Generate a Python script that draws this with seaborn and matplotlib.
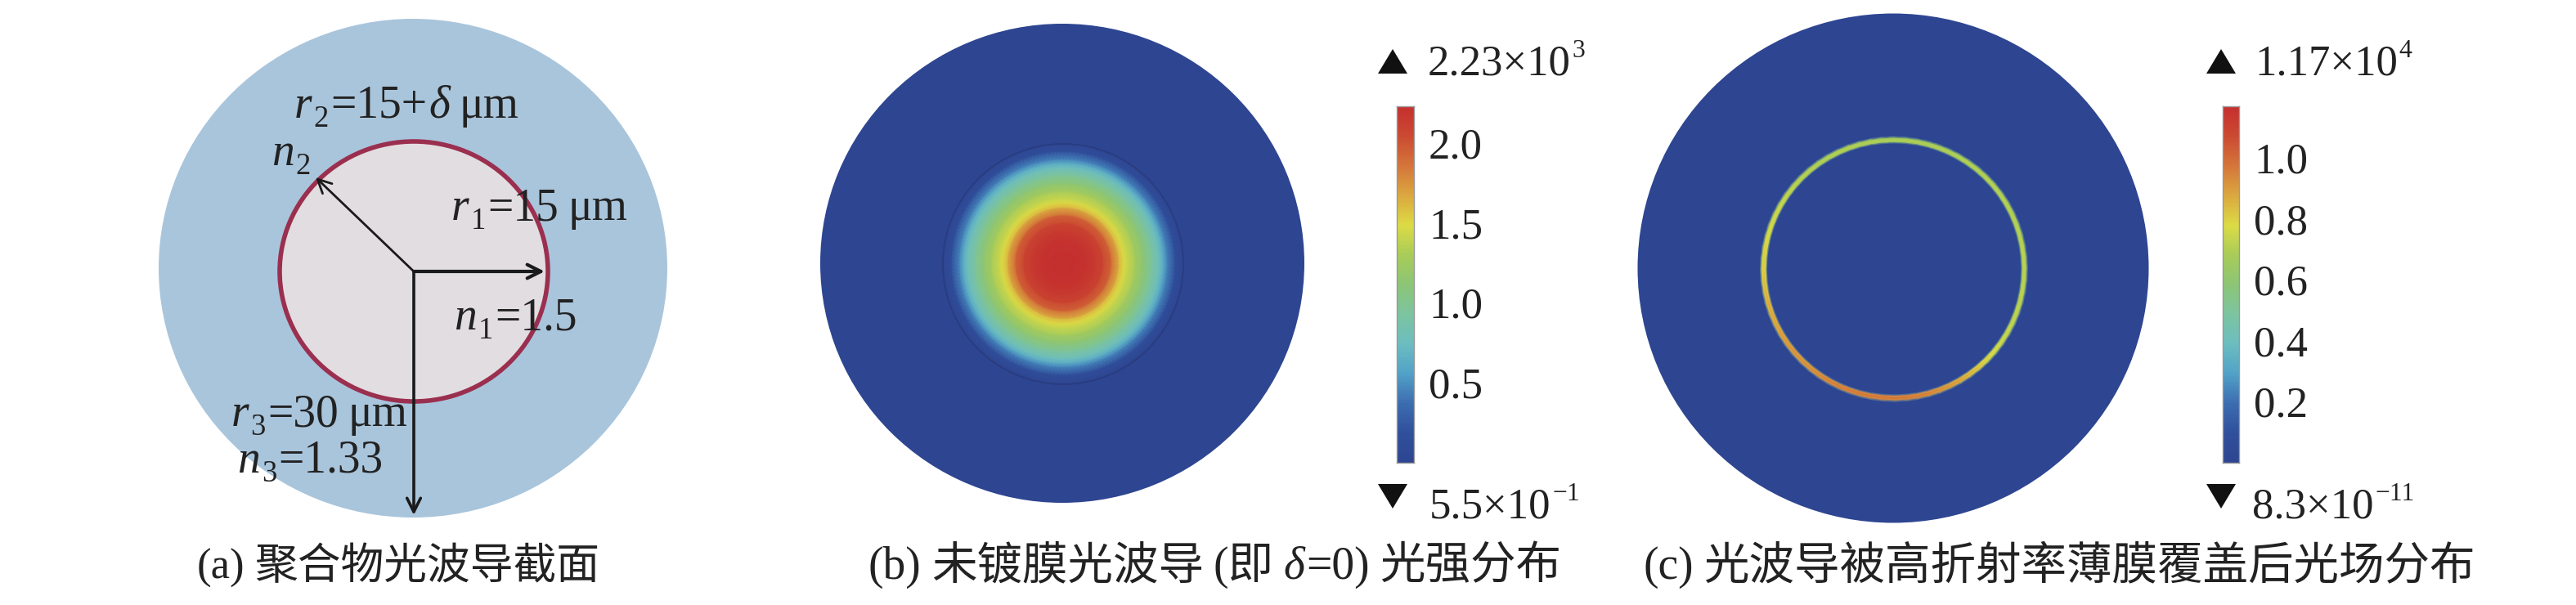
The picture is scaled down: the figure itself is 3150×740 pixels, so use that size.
"""Optical waveguide cross section and simulated field distributions."""

import matplotlib
matplotlib.use('Agg')
import matplotlib.pyplot as plt
from matplotlib.patches import Ellipse, Polygon
import seaborn as sns
import numpy as np

sns.set_theme(style="white")
FAMILY = ['Liberation Serif', 'Noto Sans CJK SC']
plt.rcParams['font.family'] = FAMILY
INK = '#222222'

# Data
# (b) intensity against radius, in units of 10^3
RADIUS_B = [0, 1, 2, 3, 4, 5, 6, 7, 7.5, 8, 9, 10, 11, 12, 12.5, 13, 14, 14.9]
INTENSITY_B = [2.23, 2.23, 2.22, 2.20, 2.16, 2.08, 1.92, 1.62, 1.50, 1.42, 1.28,
               1.12, 0.95, 0.75, 0.62, 0.45, 0.15, 0.03]
# (c) field along the film, every 5 degrees, in units of 10^4
ANGLE_C = list(range(0, 365, 5))
FIELD_C = [.73, .73, .72, .72, .72, .72, .72, .72, .72, .72, .71, .71, .71,
           .70, .70, .70, .70, .70, .70, .70, .70, .70, .71, .71, .71, .71,
           .72, .72, .73, .74, .75, .76, .77, .78, .80, .81, .82, .84, .86,
           .88, .89, .90, .91, .92, .93, .93, .94, .95, .96, .97, .97, .98,
           .98, .98, .98, .98, .97, .96, .94, .92, .90, .87, .84, .80, .78,
           .76, .75, .74, .74, .73, .73, .73, .73]
FILM_RADIUS_C = [14.6, 14.8, 15.0, 15.2, 15.4]
FILM_SHAPE_C = [0.15, 0.95, 1.0, 0.95, 0.15]

TICKS_B = [2.0, 1.5, 1.0, 0.5]
TICKS_C = [1.0, 0.8, 0.6, 0.4, 0.2]
RANGE_B = (0.0, 2.23)
RANGE_C = (0.0, 1.17)

CMAP_COLORS = ['#2e4591', '#30509c', '#3c6db0', '#52a2c8', '#6cbdc0', '#7cc4a0', '#8cc576',
               '#a8cc58', '#dcdb45', '#dba83f', '#d5763a', '#cb4a32', '#c5302e']
cmap = sns.blend_palette(CMAP_COLORS, as_cmap=True)

fig = plt.figure(figsize=(31.5, 7.4), dpi=100)
ax = fig.add_axes([0, 0, 1, 1])
ax.set_xlim(0, 3150)
ax.set_ylim(740, 0)
ax.axis('off')
renderer = fig.canvas.get_renderer()


def runs(x, y, parts, size=40):
    """Write text pieces one after the other. A number in parts is a gap."""
    for part in parts:
        if not isinstance(part, tuple):
            x += part
            continue
        s, style, scale, dy = part
        t = ax.text(x, y + dy, s, fontsize=size * scale, style=style, color=INK,
                    family=FAMILY, ha='left', va='baseline', zorder=6)
        x += t.get_window_extent(renderer).width + 2


def it(s):
    return (s, 'italic', 1, 0)


def rm(s):
    return (s, 'normal', 1, 0)


def sub(s):
    return (s, 'normal', 0.66, 11)


def sup(s):
    return (s, 'normal', 0.6, -22)


def polar_mesh(cx, cy, rx, ry, radius, angle):
    rr, aa = np.meshgrid(radius, np.radians(angle), indexing='ij')
    return cx + rx * rr / 15 * np.cos(aa), cy - ry * rr / 15 * np.sin(aa)


# (a) Waveguide cross section
ax.add_patch(Ellipse((505, 328), 622, 610, fc='#a9c5dc', ec='none'))
ax.add_patch(Ellipse((506, 332), 328, 318, fc='#e2dde0', ec='#9b2f4f', lw=4))
for tip, lw in [((666, 332), 3.0), ((506, 630), 2.6), ((386, 217), 2.0)]:
    ax.annotate('', xy=tip, xytext=(506, 332), zorder=5,
                arrowprops=dict(arrowstyle='->', color='#1a1a1a', lw=lw,
                                mutation_scale=30, shrinkA=0, shrinkB=0))

runs(360, 144, [it('r'), sub('2'), rm('=15+'), it('δ'), 10, rm('μm')])
runs(552, 269, [it('r'), sub('1'), rm('=15'), 10, rm('μm')])
runs(555, 403, [it('n'), sub('1'), rm('=1.5')])
runs(332, 202, [it('n'), sub('2')])
runs(283, 521, [it('r'), sub('3'), rm('=30'), 10, rm('μm')])
runs(290, 578, [it('n'), sub('3'), rm('=1.33')])

# (b) Uncoated waveguide
ax.add_patch(Ellipse((1299, 322), 592, 586, fc=cmap(0.0), ec='none'))
angle_b = np.linspace(0, 360, 181)
x, y = polar_mesh(1300, 322, 147, 147, RADIUS_B, angle_b)
field = np.outer(INTENSITY_B, np.ones_like(angle_b))
ax.pcolormesh(x, y, field, cmap=cmap, vmin=RANGE_B[0], vmax=RANGE_B[1],
              shading='gouraud', zorder=2)
ax.add_patch(Ellipse((1300, 323), 294, 294, fc='none', ec='#2a3c80', lw=1.3, zorder=3))

# (c) Waveguide covered by the film
ax.add_patch(Ellipse((2315, 328), 625, 623, fc=cmap(0.0), ec='none'))
x, y = polar_mesh(2316, 329, 159.5, 158, FILM_RADIUS_C, ANGLE_C)
ax.pcolormesh(x, y, np.outer(FILM_SHAPE_C, FIELD_C), cmap=cmap,
              vmin=RANGE_C[0], vmax=RANGE_C[1], shading='gouraud', zorder=2)


def colorbar(left, right, lims, ticks, fmt):
    """Vertical scale drawn as a one column heatmap."""
    n = 256
    cax = fig.add_axes([left / 3150, 1 - 566 / 740, (right - left) / 3150, 436 / 740])
    levels = np.linspace(lims[1], lims[0], n)[:, None]
    sns.heatmap(levels, cmap=cmap, vmin=lims[0], vmax=lims[1], cbar=False, ax=cax,
                xticklabels=False, yticklabels=False)
    cax.set_yticks([(lims[1] - v) / (lims[1] - lims[0]) * n for v in ticks])
    cax.set_yticklabels([fmt.format(v) for v in ticks], fontsize=38, color=INK,
                        family=FAMILY, rotation=0)
    cax.tick_params(axis='y', left=True, right=True, labelleft=False, labelright=True,
                    direction='in', length=3, width=1.2, color='#444444', pad=13)
    for side in cax.spines.values():
        side.set_visible(True)
        side.set_color('#999999')
        side.set_linewidth(1)


colorbar(1708, 1729, RANGE_B, TICKS_B, '{:.1f}')
colorbar(2718, 2738, RANGE_C, TICKS_C, '{:.1f}')

for cx in (1703, 2706):
    cx += 0 if cx < 2000 else 100 // 10
    ax.add_patch(Polygon([(cx - 18, 90), (cx + 18, 90), (cx, 60)], fc='#111111', ec='none'))
    ax.add_patch(Polygon([(cx - 18, 592), (cx + 18, 592), (cx, 622)], fc='#111111', ec='none'))

runs(1746, 92, [rm('2.23×10'), sup('3')], size=38)
runs(1748, 634, [rm('5.5×10'), sup('−1')], size=38)
runs(2757, 92, [rm('1.17×10'), sup('4')], size=38)
runs(2754, 634, [rm('8.3×10'), sup('−11')], size=38)

# Captions
runs(241, 708, [rm('(a)'), 10, rm('聚合物光波导截面')], size=38)
runs(1062, 708, [rm('(b)'), 10, rm('未镀膜光波导'), 10, rm('(即'), 10, it('δ'), rm('=0)'),
                 10, rm('光强分布')], size=40)
runs(2010, 708, [rm('(c)'), 10, rm('光波导被高折射率薄膜覆盖后光场分布')], size=40)

fig.savefig('out.png', dpi=100, facecolor='white')
